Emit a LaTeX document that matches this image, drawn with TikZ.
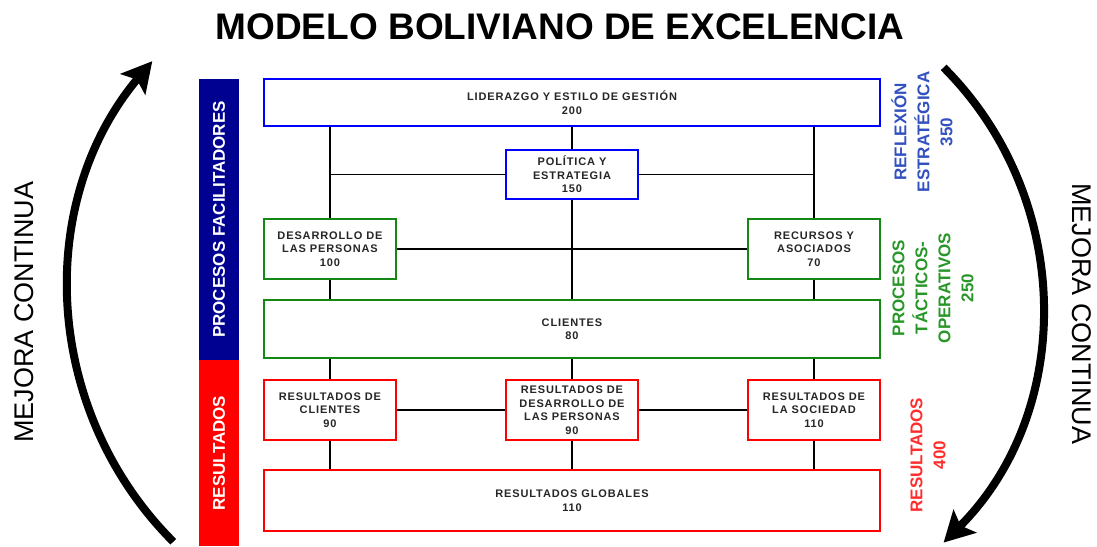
\documentclass[tikz,border=0pt]{standalone}
\usepackage{fontspec}
\setmainfont{Liberation Sans}
\newfontfamily\bxf[LetterSpace=8]{Liberation Sans}
\usetikzlibrary{arrows.meta}
\definecolor{navybar}{RGB}{0,0,145}
\definecolor{redbar}{RGB}{255,0,0}
\definecolor{bblue}{RGB}{0,0,255}
\definecolor{bgreen}{RGB}{20,135,20}
\definecolor{bred}{RGB}{255,0,0}
\definecolor{lblue}{RGB}{50,80,190}
\definecolor{lgreen}{RGB}{40,150,40}
\definecolor{lred}{RGB}{255,45,45}
\tikzset{
  box/.style={draw, line width=2pt, fill=white, align=center, inner sep=0pt,
    text=black!85, font=\bxf\bfseries\fontsize{11}{13.5}\selectfont},
  wide/.style={box, minimum width=616pt},
  small/.style={box, minimum width=132pt},
  link/.style={line width=1.5pt, black},
  sidelbl/.style={rotate=90, align=center, inner sep=0pt,
    font=\bfseries\fontsize{17}{23}\selectfont},
  bar/.style={rotate=90, minimum height=40pt, inner sep=0pt, text=white,
    font=\bfseries\fontsize{17}{20}\selectfont},
  loop/.style={line width=8pt, -{Stealth[length=30pt,width=32pt,inset=6pt]}},
  mejora/.style={inner sep=0pt, font=\fontsize{27}{30}\selectfont}
}
\begin{document}
\begin{tikzpicture}[x=1pt,y=1pt]
\useasboundingbox (0,0) rectangle (1097,-546);
% title
\node[inner sep=0pt, font=\bfseries\fontsize{37}{40}\selectfont] (title) at (560,-27) {MODELO BOLIVIANO DE EXCELENCIA};
% side bars
\node[bar, fill=navybar, minimum width=281pt] (pf) at (219,-219.5) {PROCESOS FACILITADORES};
\node[bar, fill=redbar, minimum width=186pt] (rb) at (219,-453) {RESULTADOS};
% boxes
\node[wide, draw=bblue, minimum height=47pt] (lid) at (572,-102.5) {LIDERAZGO Y ESTILO DE GESTIÓN\\200};
\node[small, draw=bblue, minimum height=49pt] (pol) at (572,-174.5) {POLÍTICA Y\\ESTRATEGIA\\150};
\node[small, draw=bgreen, minimum height=60pt] (des) at (330,-249) {DESARROLLO DE\\LAS PERSONAS\\100};
\node[small, draw=bgreen, minimum height=60pt] (rec) at (814,-249) {RECURSOS Y\\ASOCIADOS\\70};
\node[wide, draw=bgreen, minimum height=58pt] (cli) at (572,-329) {CLIENTES\\80};
\node[small, draw=bred, minimum height=60pt] (rcl) at (330,-410) {RESULTADOS DE\\CLIENTES\\90};
\node[small, draw=bred, minimum height=60pt] (rdp) at (572,-410) {RESULTADOS DE\\DESARROLLO DE\\LAS PERSONAS\\90};
\node[small, draw=bred, minimum height=60pt] (rso) at (814,-410) {RESULTADOS DE\\LA SOCIEDAD\\110};
\node[wide, draw=bred, minimum height=61pt] (glo) at (572,-500.5) {RESULTADOS GLOBALES\\110};
% connectors
\draw[link] (des.north) -- (des.north |- lid.south);
\draw[link] (pol.north) -- (pol.north |- lid.south);
\draw[link] (rec.north) -- (rec.north |- lid.south);
\draw[link] (pol.west) -- (pol.west -| des.north);
\draw[link] (pol.east) -- (pol.east -| rec.north);
\draw[link] (pol.south) -- (pol.south |- cli.north);
\draw[link] (des.east) -- (rec.west);
\draw[link] (des.south) -- (des.south |- cli.north);
\draw[link] (rec.south) -- (rec.south |- cli.north);
\draw[link] (rcl.north) -- (rcl.north |- cli.south);
\draw[link] (rdp.north) -- (rdp.north |- cli.south);
\draw[link] (rso.north) -- (rso.north |- cli.south);
\draw[link] (rcl.east) -- (rdp.west);
\draw[link] (rdp.east) -- (rso.west);
\draw[link] (rcl.south) -- (rcl.south |- glo.north);
\draw[link] (rdp.south) -- (rdp.south |- glo.north);
\draw[link] (rso.south) -- (rso.south |- glo.north);
% right labels
\node[sidelbl, text=lblue] (refl) at (922,-132) {REFLEXIÓN\\ESTRATÉGICA\\350};
\node[sidelbl, text=lgreen] (proc) at (933,-288) {PROCESOS\\TÁCTICOS-\\OPERATIVOS\\250};
\node[sidelbl, text=lred] (resl) at (928,-455) {RESULTADOS\\400};
% mejora continua
\node[mejora, rotate=90] (mcl) at (24,-312) {MEJORA CONTINUA};
\node[mejora, rotate=-90] (mcr) at (1082,-314) {MEJORA CONTINUA};
\coordinate (lc) at (425,-290);
\coordinate (rc) at (706,-305);
\draw[loop] ([shift={(225:356)}]lc) arc[start angle=225, end angle=140, radius=356];
\draw[loop] ([shift={(45:336)}]rc) arc[start angle=45, end angle=-45, radius=336];
\end{tikzpicture}
\end{document}
